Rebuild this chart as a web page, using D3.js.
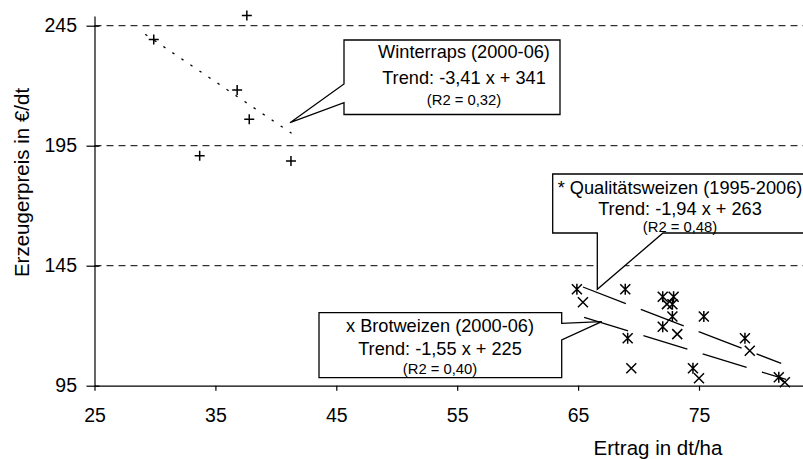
<!DOCTYPE html>
<html>
<head>
<meta charset="utf-8">
<script src="https://cdn.jsdelivr.net/npm/d3@7"></script>
<style>
  body { margin: 0; background: #fff; }
  svg { display: block; font-family: "Liberation Sans", Arial, sans-serif; }
  .grid-line { stroke: #000; stroke-width: 1; stroke-dasharray: 7,5; }
  .axis path, .axis line { stroke: #000; stroke-width: 1.2; fill: none; }
  .axis text { font-size: 19.5px; fill: #000; font-family: "Liberation Sans", Arial, sans-serif; }
  .mark { stroke: #000; stroke-width: 1.5; fill: none; }
  .trend { stroke: #000; stroke-width: 1.3; fill: none; }
  .callout { fill: #fff; stroke: #000; stroke-width: 1.3; }
  .title { font-size: 20.5px; fill: #000; }
  .ctext { fill: #000; text-anchor: middle; }
  .csmall { font-size: 14.8px; fill: #000; text-anchor: middle; }
</style>
</head>
<body>
<div class="app"></div>
<script>
'use strict'

var width = 803;
var height = 459;

// Winterraps (2000-06), Marker "+"
var rapsErtrag = [29.9, 37.6, 36.8, 37.8, 33.7, 41.25];
var rapsPreis = [239.3, 249.2, 218.2, 206.0, 190.8, 188.6];

// Qualitätsweizen (1995-2006), Marker "*"
var qualErtrag = [64.9, 68.9, 72.0, 72.9, 72.8, 72.8, 75.4, 72.0, 69.1, 78.8, 74.5, 81.6];
var qualPreis = [135.2, 135.2, 132.1, 132.1, 128.9, 123.8, 123.8, 119.6, 114.8, 114.8, 102.3, 98.5];

// Brotweizen (2000-06), Marker "x"
var brotErtrag = [65.4, 72.35, 73.2, 79.2, 69.4, 75.0, 82.1];
var brotPreis = [129.8, 129.0, 116.5, 109.6, 102.3, 98.1, 96.4];

// Trendlinien: Steigung, Achsenabschnitt, Bereich
var trendSlope = [-3.41, -1.94, -1.55];
var trendIntercept = [341, 263, 225];
var trendFrom = [29.2, 65.4, 65.5];
var trendTo = [41.3, 81.8, 82.2];
var trendDash = ["2.5,8.4", "46,16", "46,16"];

var xTicks = [25, 35, 45, 55, 65, 75];
var yTicks = [95, 145, 195, 245];

var calloutText = [
  ["Winterraps (2000-06)", "Trend: -3,41 x + 341", "(R2 = 0,32)"],
  ["* Qualitätsweizen (1995-2006)", "Trend: -1,94 x + 263", "(R2 = 0,48)"],
  ["x Brotweizen (2000-06)", "Trend: -1,55 x + 225", "(R2 = 0,40)"]
];

var svg = d3.select(".app")
            .append("svg")
            .attr("width", width)
            .attr("height", height);

svg.append("rect")
   .attr("width", width)
   .attr("height", height)
   .attr("fill", "#fff");

var scaleX = d3.scaleLinear()
               .domain([25, 85])
               .range([94.5, 94.5 + 60 * 12.09]);

var scaleY = d3.scaleLinear()
               .domain([95, 249])
               .range([385.7, 385.7 - 154 * 2.4]);

// horizontale Gitterlinien (gestrichelt)
svg.append("g")
   .selectAll("line")
   .data(yTicks.slice(1))
   .enter()
   .append("line")
   .attr("class", "grid-line")
   .attr("x1", scaleX(25))
   .attr("x2", width)
   .attr("y1", function(d) { return scaleY(d); })
   .attr("y2", function(d) { return scaleY(d); });

// Achse X
var xAxis = d3.axisBottom(scaleX)
              .tickValues(xTicks)
              .tickSizeInner(5)
              .tickSizeOuter(0)
              .tickFormat(d3.format("d"));

var gx = svg.append("g")
            .attr("class", "axis")
            .attr("transform", "translate(0," + scaleY(95) + ")")
            .call(xAxis);
gx.selectAll("text").attr("y", 22.5).attr("dy", "0.71em");

// Achse Y
var yAxis = d3.axisLeft(scaleY)
              .tickValues(yTicks)
              .tickSizeInner(8)
              .tickSizeOuter(0)
              .tickFormat(d3.format("d"));

var gy = svg.append("g")
            .attr("class", "axis")
            .attr("transform", "translate(" + scaleX(25) + ",0)")
            .call(yAxis);
gy.selectAll(".tick line").attr("x1", 5);
gy.selectAll("text").attr("x", -17.5);

// Trendlinien
var line = d3.line()
             .x(function(d) { return scaleX(d[0]); })
             .y(function(d) { return scaleY(d[1]); });

for (var i = 0; i < trendSlope.length; i++) {
  var pts = [trendFrom[i], trendTo[i]].map(function(x) {
    return [x, trendSlope[i] * x + trendIntercept[i]];
  });
  svg.append("path")
     .attr("class", "trend")
     .attr("d", line(pts))
     .attr("stroke-dasharray", trendDash[i])
     .attr("stroke-width", i === 0 ? 1.8 : 1.3);
}

// Marker
function plus(s) { return "M" + (-s) + ",0H" + s + "M0," + (-s) + "V" + s; }
function cross(s) { return "M" + (-s) + "," + (-s) + "L" + s + "," + s + "M" + (-s) + "," + s + "L" + s + "," + (-s); }
function star(s) { return cross(s) + "M0," + (-s - 0.5) + "V" + (s + 0.5); }

function drawMarks(xs, ys, shape) {
  svg.append("g")
     .selectAll("path")
     .data(xs)
     .enter()
     .append("path")
     .attr("class", "mark")
     .attr("transform", function(d, i) {
       return "translate(" + scaleX(d) + "," + scaleY(ys[i]) + ")";
     })
     .attr("d", shape);
}

drawMarks(rapsErtrag, rapsPreis, plus(5));
drawMarks(qualErtrag, qualPreis, star(5));
drawMarks(brotErtrag, brotPreis, cross(5));

// Legenden-Kästen mit Zeiger
var callouts = [
  "M344,40H560V114.5H344V102.7L290,122.7L344,84Z",
  "M552.7,174H811V233H663L597.3,289.3V233H552.7Z",
  "M319,312.7H561.7V323.3L601.7,321.7L561.7,340V377.7H319Z"
];
var textX = [464, 680, 440];
var textSize = [18.2, 18.2, 18.2];
var textY = [[58, 84, 104.5], [194, 214.5, 231.5], [332, 354.5, 374]];

svg.append("g")
   .selectAll("path")
   .data(callouts)
   .enter()
   .append("path")
   .attr("class", "callout")
   .attr("d", function(d) { return d; });

calloutText.forEach(function(lines, k) {
  lines.forEach(function(t, j) {
    svg.append("text")
       .attr("class", j === 2 ? "csmall" : "ctext")
       .attr("font-size", j === 2 ? null : textSize[k] + "px")
       .attr("x", textX[k])
       .attr("y", textY[k][j])
       .text(t);
  });
});

// Achsentitel
svg.append("text")
   .attr("class", "title")
   .attr("x", 658)
   .attr("y", 455)
   .attr("text-anchor", "middle")
   .text("Ertrag in dt/ha");

svg.append("text")
   .attr("class", "title")
   .attr("transform", "translate(28.5,182.5) rotate(-90)")
   .attr("text-anchor", "middle")
   .text("Erzeugerpreis in €/dt");
</script>
</body>
</html>
